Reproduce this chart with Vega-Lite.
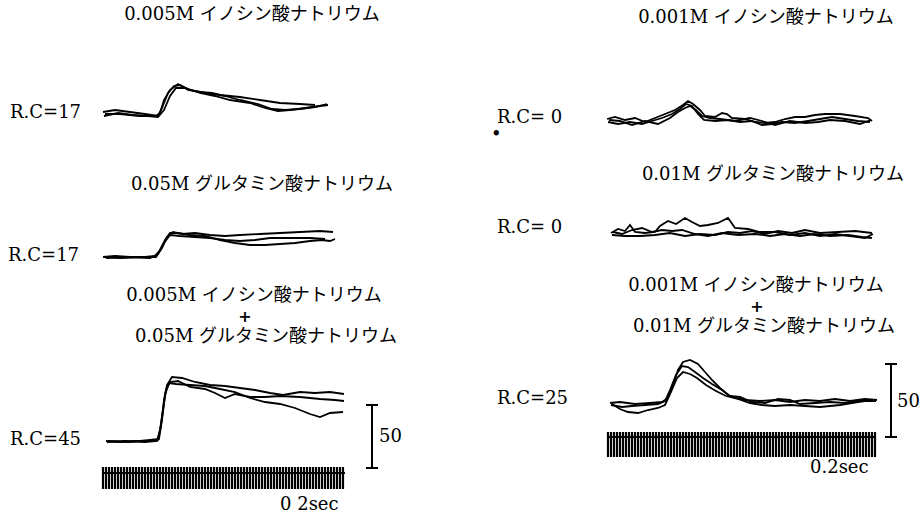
{
  "$schema": "https://vega.github.io/schema/vega-lite/v6.json",
  "width": 921,
  "height": 520,
  "padding": 0,
  "autosize": {"type": "fit", "contains": "padding"},
  "background": "white",
  "config": {"view": {"stroke": null}},
  "datasets": {
    "traces": [
      {"s":"1a","x":103,"y":112},{"s":"1a","x":115,"y":110},{"s":"1a","x":130,"y":112},{"s":"1a","x":145,"y":114},{"s":"1a","x":158,"y":116},{"s":"1a","x":162,"y":108},{"s":"1a","x":168,"y":93},{"s":"1a","x":174,"y":86},{"s":"1a","x":180,"y":85},{"s":"1a","x":190,"y":90},{"s":"1a","x":205,"y":93},{"s":"1a","x":220,"y":95},{"s":"1a","x":240,"y":97},{"s":"1a","x":260,"y":100},{"s":"1a","x":280,"y":103},{"s":"1a","x":300,"y":104},{"s":"1a","x":315,"y":105},
      {"s":"1b","x":104,"y":116},{"s":"1b","x":118,"y":113},{"s":"1b","x":132,"y":115},{"s":"1b","x":148,"y":116},{"s":"1b","x":158,"y":117},{"s":"1b","x":164,"y":110},{"s":"1b","x":170,"y":96},{"s":"1b","x":176,"y":88},{"s":"1b","x":185,"y":88},{"s":"1b","x":200,"y":93},{"s":"1b","x":215,"y":96},{"s":"1b","x":230,"y":100},{"s":"1b","x":250,"y":103},{"s":"1b","x":265,"y":108},{"s":"1b","x":278,"y":111},{"s":"1b","x":290,"y":110},{"s":"1b","x":305,"y":108},{"s":"1b","x":320,"y":106},{"s":"1b","x":328,"y":105},
      {"s":"1c","x":105,"y":114},{"s":"1c","x":120,"y":114},{"s":"1c","x":140,"y":116},{"s":"1c","x":156,"y":116},{"s":"1c","x":160,"y":113},{"s":"1c","x":164,"y":100},{"s":"1c","x":170,"y":90},{"s":"1c","x":178,"y":84},{"s":"1c","x":188,"y":90},{"s":"1c","x":200,"y":92},{"s":"1c","x":212,"y":93},{"s":"1c","x":225,"y":96},{"s":"1c","x":240,"y":100},{"s":"1c","x":258,"y":104},{"s":"1c","x":272,"y":109},{"s":"1c","x":285,"y":110},{"s":"1c","x":300,"y":109},{"s":"1c","x":315,"y":107},{"s":"1c","x":327,"y":104},

      {"s":"2a","x":103,"y":257},{"s":"2a","x":115,"y":256},{"s":"2a","x":130,"y":257},{"s":"2a","x":145,"y":257},{"s":"2a","x":155,"y":256},{"s":"2a","x":160,"y":250},{"s":"2a","x":165,"y":240},{"s":"2a","x":170,"y":233},{"s":"2a","x":178,"y":233},{"s":"2a","x":190,"y":235},{"s":"2a","x":205,"y":236},{"s":"2a","x":220,"y":240},{"s":"2a","x":235,"y":243},{"s":"2a","x":250,"y":245},{"s":"2a","x":265,"y":245},{"s":"2a","x":280,"y":244},{"s":"2a","x":295,"y":243},{"s":"2a","x":310,"y":241},{"s":"2a","x":322,"y":240},{"s":"2a","x":330,"y":241},{"s":"2a","x":335,"y":239},
      {"s":"2b","x":104,"y":257},{"s":"2b","x":120,"y":258},{"s":"2b","x":140,"y":257},{"s":"2b","x":156,"y":257},{"s":"2b","x":162,"y":248},{"s":"2b","x":167,"y":237},{"s":"2b","x":173,"y":232},{"s":"2b","x":182,"y":234},{"s":"2b","x":195,"y":233},{"s":"2b","x":210,"y":235},{"s":"2b","x":225,"y":236},{"s":"2b","x":240,"y":235},{"s":"2b","x":260,"y":234},{"s":"2b","x":280,"y":233},{"s":"2b","x":300,"y":232},{"s":"2b","x":320,"y":231},{"s":"2b","x":333,"y":232},
      {"s":"2c","x":106,"y":258},{"s":"2c","x":125,"y":257},{"s":"2c","x":150,"y":258},{"s":"2c","x":158,"y":254},{"s":"2c","x":164,"y":243},{"s":"2c","x":170,"y":235},{"s":"2c","x":180,"y":236},{"s":"2c","x":195,"y":237},{"s":"2c","x":210,"y":238},{"s":"2c","x":225,"y":240},{"s":"2c","x":240,"y":241},{"s":"2c","x":255,"y":240},{"s":"2c","x":270,"y":238},{"s":"2c","x":290,"y":238},{"s":"2c","x":310,"y":238},{"s":"2c","x":325,"y":239},

      {"s":"3a","x":106,"y":441},{"s":"3a","x":120,"y":442},{"s":"3a","x":135,"y":441},{"s":"3a","x":150,"y":441},{"s":"3a","x":158,"y":440},{"s":"3a","x":161,"y":425},{"s":"3a","x":164,"y":400},{"s":"3a","x":167,"y":385},{"s":"3a","x":172,"y":377},{"s":"3a","x":182,"y":378},{"s":"3a","x":195,"y":382},{"s":"3a","x":210,"y":385},{"s":"3a","x":225,"y":386},{"s":"3a","x":240,"y":388},{"s":"3a","x":255,"y":390},{"s":"3a","x":270,"y":393},{"s":"3a","x":283,"y":395},{"s":"3a","x":300,"y":392},{"s":"3a","x":315,"y":393},{"s":"3a","x":330,"y":392},{"s":"3a","x":344,"y":394},
      {"s":"3b","x":107,"y":442},{"s":"3b","x":125,"y":441},{"s":"3b","x":145,"y":442},{"s":"3b","x":157,"y":441},{"s":"3b","x":160,"y":430},{"s":"3b","x":163,"y":410},{"s":"3b","x":166,"y":390},{"s":"3b","x":170,"y":382},{"s":"3b","x":178,"y":381},{"s":"3b","x":190,"y":387},{"s":"3b","x":205,"y":389},{"s":"3b","x":215,"y":393},{"s":"3b","x":225,"y":398},{"s":"3b","x":235,"y":394},{"s":"3b","x":250,"y":397},{"s":"3b","x":265,"y":397},{"s":"3b","x":280,"y":396},{"s":"3b","x":300,"y":397},{"s":"3b","x":320,"y":399},{"s":"3b","x":335,"y":400},{"s":"3b","x":344,"y":401},
      {"s":"3c","x":108,"y":441},{"s":"3c","x":130,"y":442},{"s":"3c","x":150,"y":440},{"s":"3c","x":159,"y":439},{"s":"3c","x":162,"y":420},{"s":"3c","x":165,"y":395},{"s":"3c","x":169,"y":383},{"s":"3c","x":176,"y":384},{"s":"3c","x":190,"y":385},{"s":"3c","x":205,"y":386},{"s":"3c","x":220,"y":389},{"s":"3c","x":235,"y":392},{"s":"3c","x":250,"y":398},{"s":"3c","x":265,"y":402},{"s":"3c","x":280,"y":404},{"s":"3c","x":295,"y":408},{"s":"3c","x":310,"y":414},{"s":"3c","x":320,"y":417},{"s":"3c","x":330,"y":413},{"s":"3c","x":343,"y":412},

      {"s":"4a","x":607,"y":119},{"s":"4a","x":615,"y":117},{"s":"4a","x":625,"y":120},{"s":"4a","x":635,"y":118},{"s":"4a","x":645,"y":122},{"s":"4a","x":655,"y":118},{"s":"4a","x":665,"y":114},{"s":"4a","x":675,"y":110},{"s":"4a","x":683,"y":105},{"s":"4a","x":688,"y":101},{"s":"4a","x":693,"y":104},{"s":"4a","x":700,"y":110},{"s":"4a","x":705,"y":116},{"s":"4a","x":715,"y":117},{"s":"4a","x":722,"y":113},{"s":"4a","x":727,"y":114},{"s":"4a","x":732,"y":118},{"s":"4a","x":745,"y":119},{"s":"4a","x":755,"y":122},{"s":"4a","x":765,"y":123},{"s":"4a","x":775,"y":122},{"s":"4a","x":785,"y":119},{"s":"4a","x":795,"y":117},{"s":"4a","x":805,"y":117},{"s":"4a","x":815,"y":115},{"s":"4a","x":825,"y":114},{"s":"4a","x":840,"y":114},{"s":"4a","x":855,"y":116},{"s":"4a","x":868,"y":118},{"s":"4a","x":872,"y":121},
      {"s":"4b","x":608,"y":122},{"s":"4b","x":618,"y":124},{"s":"4b","x":630,"y":122},{"s":"4b","x":642,"y":124},{"s":"4b","x":652,"y":121},{"s":"4b","x":662,"y":118},{"s":"4b","x":672,"y":114},{"s":"4b","x":680,"y":109},{"s":"4b","x":686,"y":104},{"s":"4b","x":692,"y":106},{"s":"4b","x":698,"y":114},{"s":"4b","x":704,"y":120},{"s":"4b","x":715,"y":121},{"s":"4b","x":728,"y":120},{"s":"4b","x":740,"y":122},{"s":"4b","x":752,"y":121},{"s":"4b","x":762,"y":125},{"s":"4b","x":772,"y":124},{"s":"4b","x":782,"y":122},{"s":"4b","x":795,"y":123},{"s":"4b","x":808,"y":121},{"s":"4b","x":820,"y":119},{"s":"4b","x":832,"y":117},{"s":"4b","x":845,"y":119},{"s":"4b","x":858,"y":121},{"s":"4b","x":870,"y":122},
      {"s":"4c","x":609,"y":120},{"s":"4c","x":620,"y":121},{"s":"4c","x":632,"y":125},{"s":"4c","x":645,"y":121},{"s":"4c","x":658,"y":124},{"s":"4c","x":670,"y":118},{"s":"4c","x":678,"y":112},{"s":"4c","x":685,"y":108},{"s":"4c","x":690,"y":106},{"s":"4c","x":696,"y":110},{"s":"4c","x":702,"y":116},{"s":"4c","x":710,"y":118},{"s":"4c","x":720,"y":119},{"s":"4c","x":735,"y":121},{"s":"4c","x":750,"y":118},{"s":"4c","x":762,"y":121},{"s":"4c","x":775,"y":125},{"s":"4c","x":790,"y":121},{"s":"4c","x":805,"y":123},{"s":"4c","x":818,"y":122},{"s":"4c","x":830,"y":120},{"s":"4c","x":845,"y":121},{"s":"4c","x":860,"y":124},{"s":"4c","x":871,"y":120},

      {"s":"5a","x":611,"y":233},{"s":"5a","x":618,"y":229},{"s":"5a","x":625,"y":231},{"s":"5a","x":630,"y":225},{"s":"5a","x":635,"y":232},{"s":"5a","x":645,"y":233},{"s":"5a","x":655,"y":232},{"s":"5a","x":660,"y":226},{"s":"5a","x":668,"y":221},{"s":"5a","x":676,"y":224},{"s":"5a","x":685,"y":218},{"s":"5a","x":692,"y":222},{"s":"5a","x":700,"y":226},{"s":"5a","x":708,"y":225},{"s":"5a","x":718,"y":223},{"s":"5a","x":728,"y":218},{"s":"5a","x":735,"y":228},{"s":"5a","x":748,"y":229},{"s":"5a","x":760,"y":232},{"s":"5a","x":775,"y":232},{"s":"5a","x":790,"y":235},{"s":"5a","x":805,"y":233},{"s":"5a","x":820,"y":236},{"s":"5a","x":835,"y":234},{"s":"5a","x":850,"y":236},{"s":"5a","x":865,"y":238},{"s":"5a","x":873,"y":234},
      {"s":"5b","x":612,"y":235},{"s":"5b","x":625,"y":236},{"s":"5b","x":640,"y":236},{"s":"5b","x":655,"y":235},{"s":"5b","x":670,"y":233},{"s":"5b","x":685,"y":236},{"s":"5b","x":700,"y":234},{"s":"5b","x":715,"y":235},{"s":"5b","x":728,"y":232},{"s":"5b","x":740,"y":233},{"s":"5b","x":752,"y":231},{"s":"5b","x":765,"y":234},{"s":"5b","x":778,"y":231},{"s":"5b","x":792,"y":233},{"s":"5b","x":805,"y":230},{"s":"5b","x":820,"y":233},{"s":"5b","x":838,"y":232},{"s":"5b","x":855,"y":231},{"s":"5b","x":872,"y":233},
      {"s":"5c","x":613,"y":232},{"s":"5c","x":622,"y":234},{"s":"5c","x":632,"y":230},{"s":"5c","x":642,"y":228},{"s":"5c","x":652,"y":232},{"s":"5c","x":662,"y":230},{"s":"5c","x":672,"y":231},{"s":"5c","x":682,"y":230},{"s":"5c","x":695,"y":234},{"s":"5c","x":708,"y":236},{"s":"5c","x":722,"y":233},{"s":"5c","x":738,"y":235},{"s":"5c","x":755,"y":234},{"s":"5c","x":770,"y":236},{"s":"5c","x":785,"y":234},{"s":"5c","x":800,"y":236},{"s":"5c","x":815,"y":234},{"s":"5c","x":830,"y":236},{"s":"5c","x":848,"y":235},{"s":"5c","x":862,"y":237},{"s":"5c","x":872,"y":238},

      {"s":"6a","x":610,"y":403},{"s":"6a","x":620,"y":402},{"s":"6a","x":635,"y":404},{"s":"6a","x":650,"y":403},{"s":"6a","x":662,"y":402},{"s":"6a","x":668,"y":398},{"s":"6a","x":673,"y":385},{"s":"6a","x":678,"y":370},{"s":"6a","x":683,"y":362},{"s":"6a","x":690,"y":360},{"s":"6a","x":698,"y":364},{"s":"6a","x":705,"y":372},{"s":"6a","x":712,"y":380},{"s":"6a","x":720,"y":388},{"s":"6a","x":728,"y":395},{"s":"6a","x":735,"y":398},{"s":"6a","x":745,"y":400},{"s":"6a","x":760,"y":401},{"s":"6a","x":775,"y":400},{"s":"6a","x":790,"y":402},{"s":"6a","x":805,"y":400},{"s":"6a","x":820,"y":401},{"s":"6a","x":835,"y":399},{"s":"6a","x":850,"y":401},{"s":"6a","x":865,"y":399},{"s":"6a","x":877,"y":400},
      {"s":"6b","x":611,"y":405},{"s":"6b","x":622,"y":407},{"s":"6b","x":632,"y":406},{"s":"6b","x":645,"y":405},{"s":"6b","x":658,"y":404},{"s":"6b","x":665,"y":401},{"s":"6b","x":670,"y":390},{"s":"6b","x":676,"y":375},{"s":"6b","x":682,"y":366},{"s":"6b","x":688,"y":367},{"s":"6b","x":695,"y":372},{"s":"6b","x":703,"y":378},{"s":"6b","x":712,"y":384},{"s":"6b","x":722,"y":390},{"s":"6b","x":730,"y":396},{"s":"6b","x":740,"y":397},{"s":"6b","x":752,"y":402},{"s":"6b","x":765,"y":403},{"s":"6b","x":778,"y":399},{"s":"6b","x":790,"y":400},{"s":"6b","x":800,"y":404},{"s":"6b","x":815,"y":403},{"s":"6b","x":830,"y":402},{"s":"6b","x":845,"y":403},{"s":"6b","x":860,"y":401},{"s":"6b","x":876,"y":401},
      {"s":"6c","x":612,"y":404},{"s":"6c","x":620,"y":409},{"s":"6c","x":628,"y":412},{"s":"6c","x":638,"y":413},{"s":"6c","x":648,"y":410},{"s":"6c","x":658,"y":408},{"s":"6c","x":665,"y":405},{"s":"6c","x":671,"y":392},{"s":"6c","x":677,"y":378},{"s":"6c","x":683,"y":372},{"s":"6c","x":690,"y":374},{"s":"6c","x":697,"y":378},{"s":"6c","x":706,"y":385},{"s":"6c","x":716,"y":391},{"s":"6c","x":726,"y":396},{"s":"6c","x":738,"y":399},{"s":"6c","x":750,"y":403},{"s":"6c","x":762,"y":405},{"s":"6c","x":775,"y":406},{"s":"6c","x":790,"y":405},{"s":"6c","x":805,"y":406},{"s":"6c","x":820,"y":407},{"s":"6c","x":840,"y":405},{"s":"6c","x":858,"y":402},{"s":"6c","x":872,"y":400}
    ],
    "segs": [
      {"x":372,"x2":372,"y":405,"y2":468},
      {"x":366,"x2":378,"y":405,"y2":405},
      {"x":366,"x2":378,"y":468,"y2":468},
      {"x":891,"x2":891,"y":364,"y2":437},
      {"x":885,"x2":897,"y":364,"y2":364},
      {"x":885,"x2":897,"y":437,"y2":437},
      {"x":103,"x2":345,"y":473,"y2":473},
      {"x":608,"x2":876,"y":437,"y2":437}
    ],
    "ticksL": [103,106,109,112,115,118,121,124,127,130,133,136,139,142,145,148,151,154,157,160,163,166,169,172,175,178,181,184,187,190,193,196,199,202,205,208,211,214,217,220,223,226,229,232,235,238,241,244,247,250,253,256,259,262,265,268,271,274,277,280,283,286,289,292,295,298,301,304,307,310,313,316,319,322,325,328,331,334,337,340,343],
    "ticksR": [608,611,614,617,620,623,626,629,632,635,638,641,644,647,650,653,656,659,662,665,668,671,674,677,680,683,686,689,692,695,698,701,704,707,710,713,716,719,722,725,728,731,734,737,740,743,746,749,752,755,758,761,764,767,770,773,776,779,782,785,788,791,794,797,800,803,806,809,812,815,818,821,824,827,830,833,836,839,842,845,848,851,854,857,860,863,866,869,872,875],
    "titles": [
      {"t":"0.005M イノシン酸ナトリウム","x":252,"y":15},
      {"t":"0.05M グルタミン酸ナトリウム","x":262,"y":185},
      {"t":"0.005M イノシン酸ナトリウム","x":254,"y":296},
      {"t":"0.05M グルタミン酸ナトリウム","x":266,"y":337},
      {"t":"0.001M イノシン酸ナトリウム","x":766,"y":18},
      {"t":"0.01M グルタミン酸ナトリウム","x":773,"y":175},
      {"t":"0.001M イノシン酸ナトリウム","x":756,"y":286},
      {"t":"0.01M グルタミン酸ナトリウム","x":764,"y":327}
    ],
    "plus": [
      {"t":"+","x":245,"y":317},
      {"t":"+","x":757,"y":307}
    ],
    "labels": [
      {"t":"R.C=17","x":10,"y":113},
      {"t":"R.C=17","x":8,"y":256},
      {"t":"R.C=45","x":10,"y":440},
      {"t":"R.C= 0","x":497,"y":118},
      {"t":"R.C= 0","x":497,"y":228},
      {"t":"R.C=25","x":497,"y":399},
      {"t":"50","x":379,"y":437},
      {"t":"50","x":897,"y":402},
      {"t":"0 2sec","x":280,"y":505},
      {"t":"0.2sec","x":810,"y":468},
      {"t":"•","x":491,"y":135}
    ]
  },
  "encoding": {
    "x": {"type": "quantitative", "scale": {"domain": [0, 921]}, "axis": null},
    "y": {"type": "quantitative", "scale": {"domain": [0, 520], "reverse": true}, "axis": null}
  },
  "layer": [
    {
      "data": {"name": "traces"},
      "mark": {"type": "line", "color": "black", "strokeWidth": 1.8, "interpolate": "linear"},
      "encoding": {
        "x": {"field": "x", "type": "quantitative", "scale": {"domain": [0, 921]}, "axis": null},
        "y": {"field": "y", "type": "quantitative", "scale": {"domain": [0, 520], "reverse": true}, "axis": null},
        "detail": {"field": "s"}
      }
    },
    {
      "data": {"name": "segs"},
      "mark": {"type": "rule", "color": "black", "strokeWidth": 2},
      "encoding": {
        "x": {"field": "x", "type": "quantitative"},
        "x2": {"field": "x2"},
        "y": {"field": "y", "type": "quantitative"},
        "y2": {"field": "y2"}
      }
    },
    {
      "data": {"name": "ticksL"},
      "mark": {"type": "rule", "color": "black", "strokeWidth": 2.2},
      "encoding": {
        "x": {"field": "data", "type": "quantitative"},
        "y": {"datum": 467},
        "y2": {"datum": 489}
      }
    },
    {
      "data": {"name": "ticksR"},
      "mark": {"type": "rule", "color": "black", "strokeWidth": 2.2},
      "encoding": {
        "x": {"field": "data", "type": "quantitative"},
        "y": {"datum": 432},
        "y2": {"datum": 457}
      }
    },
    {
      "data": {"name": "titles"},
      "mark": {"type": "text", "font": "DejaVu Serif, Noto Sans CJK JP", "fontSize": 18, "align": "center", "baseline": "middle", "color": "black"},
      "encoding": {
        "x": {"field": "x", "type": "quantitative"},
        "y": {"field": "y", "type": "quantitative"},
        "text": {"field": "t"}
      }
    },
    {
      "data": {"name": "plus"},
      "mark": {"type": "text", "font": "DejaVu Sans", "fontSize": 16, "fontWeight": "bold", "align": "center", "baseline": "middle", "color": "black"},
      "encoding": {
        "x": {"field": "x", "type": "quantitative"},
        "y": {"field": "y", "type": "quantitative"},
        "text": {"field": "t"}
      }
    },
    {
      "data": {"name": "labels"},
      "mark": {"type": "text", "font": "DejaVu Serif", "fontSize": 18, "align": "left", "baseline": "middle", "color": "black"},
      "encoding": {
        "x": {"field": "x", "type": "quantitative"},
        "y": {"field": "y", "type": "quantitative"},
        "text": {"field": "t"}
      }
    }
  ]
}
